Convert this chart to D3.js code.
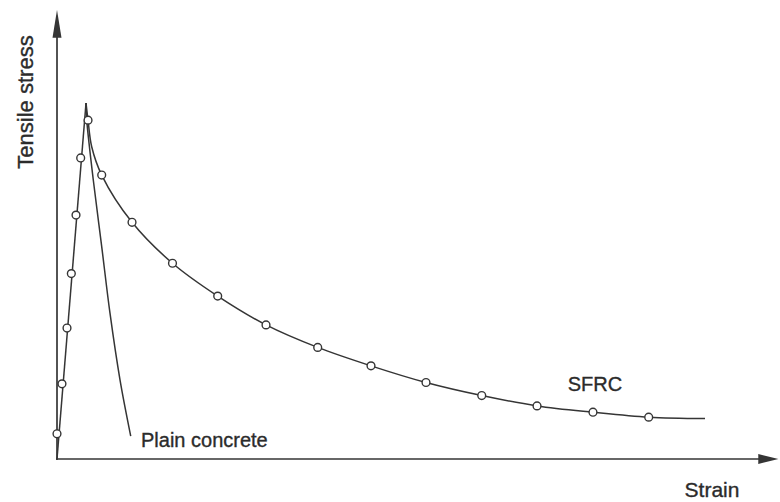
<!DOCTYPE html>
<html>
<head>
<meta charset="utf-8">
<script src="https://cdn.jsdelivr.net/npm/d3@7/dist/d3.min.js"></script>
<style>
  html, body { margin: 0; padding: 0; background: #fff; }
  svg { display: block; }
  text { font-family: "Liberation Sans", Arial, sans-serif; fill: #2b2b2b; stroke: #2b2b2b; stroke-width: 0.35; }
</style>
</head>
<body>
<svg id="chart" width="780" height="502"></svg>
<script>
// ---- data (arbitrary units) ----
const riseStrain = [0, 4.03];
const riseStress = [0, 79.1];

// SFRC circle markers
const sfrcStrain = [0, 0.69, 1.39, 1.99, 2.64, 3.29, 4.31, 6.21, 10.42, 16.04, 22.32, 29.03, 36.21, 43.61, 51.25, 58.99, 66.67, 74.44, 82.18];
const sfrcStress = [5.6, 16.7, 29.1, 41.2, 54.2, 66.9, 75.3, 63.1, 52.6, 43.5, 36.2, 29.8, 24.8, 20.7, 17.0, 14.1, 11.8, 10.4, 9.3];

// SFRC softening curve (from peak)
const sfrcCurveStrain = [4.03, 4.31, 4.82, 6.21, 10.42, 16.04, 22.32, 29.03, 36.21, 43.61, 51.25, 58.99, 66.67, 74.44, 82.18, 90.0];
const sfrcCurveStress = [79.1, 75.3, 69.4, 63.1, 52.6, 43.5, 36.2, 29.8, 24.8, 20.7, 17.0, 14.1, 11.8, 10.4, 9.3, 9.0];

// Plain concrete softening (from peak)
const plainStrain = [4.03, 4.13, 5.04, 6.21, 7.36, 8.75, 10.24];
const plainStress = [79.1, 75.3, 62.0, 47.2, 32.4, 17.6, 5.1];

const labels = { y: "Tensile stress", x: "Strain", sfrc: "SFRC", plain: "Plain concrete" };

// ---- drawing ----
const svg = d3.select("#chart");
const x = d3.scaleLinear().domain([0, 100]).range([57, 777]);
const y = d3.scaleLinear().domain([0, 100]).range([459, 9]);

const ink = "#353535";

// axes
const axisG = svg.append("g");
axisG.append("line").attr("x1", x(0)).attr("x2", x(0)).attr("y1", y(0) + 1).attr("y2", y(93.8))
  .attr("stroke", ink).attr("stroke-width", 1.7);
axisG.append("path")
  .attr("d", `M${x(0)},${y(99.8)} L${x(0) - 4.5},${y(93.6)} L${x(0) + 4.5},${y(93.6)} Z`)
  .attr("fill", ink);
axisG.append("line").attr("x1", x(0) - 1).attr("x2", x(97.6)).attr("y1", y(0)).attr("y2", y(0))
  .attr("stroke", ink).attr("stroke-width", 1.7);
axisG.append("path")
  .attr("d", `M${x(100.2)},${y(0)} L${x(97.4)},${y(0) - 5} L${x(97.4)},${y(0) + 5} Z`)
  .attr("fill", ink);

const zip = (a, b) => a.map((v, i) => [v, b[i]]);
const line = d3.line().x(d => x(d[0])).y(d => y(d[1]));
const curve = d3.line().x(d => x(d[0])).y(d => y(d[1])).curve(d3.curveCatmullRom.alpha(0.5));

// shared linear rise
svg.append("path").attr("d", line(zip(riseStrain, riseStress)))
  .attr("fill", "none").attr("stroke", ink).attr("stroke-width", 1.5);
// plain concrete softening
svg.append("path").attr("d", curve(zip(plainStrain, plainStress)))
  .attr("fill", "none").attr("stroke", ink).attr("stroke-width", 1.5);
// SFRC softening
svg.append("path").attr("d", curve(zip(sfrcCurveStrain, sfrcCurveStress)))
  .attr("fill", "none").attr("stroke", ink).attr("stroke-width", 1.5);

// markers
svg.append("g").selectAll("circle").data(zip(sfrcStrain, sfrcStress)).join("circle")
  .attr("cx", d => x(d[0])).attr("cy", d => y(d[1])).attr("r", 3.9)
  .attr("fill", "#fff").attr("stroke", ink).attr("stroke-width", 1.4);

// labels
svg.append("text").attr("transform", `translate(33,102) rotate(-90)`)
  .attr("text-anchor", "middle").attr("font-size", 22).text(labels.y);
svg.append("text").attr("x", 712).attr("y", 497).attr("text-anchor", "middle")
  .attr("font-size", 21).text(labels.x);
svg.append("text").attr("x", 595).attr("y", 391).attr("text-anchor", "middle")
  .attr("font-size", 20).text(labels.sfrc);
svg.append("text").attr("x", 141).attr("y", 446.5).attr("text-anchor", "start")
  .attr("font-size", 20).text(labels.plain);
</script>
</body>
</html>
